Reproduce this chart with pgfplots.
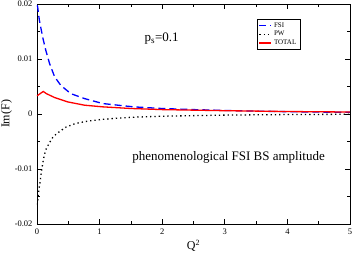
\documentclass[border=0pt]{standalone}
\usepackage{fontspec}
\setmainfont{Liberation Serif}
\usepackage{pgfplots}
\pgfplotsset{compat=1.18}
\begin{document}
\begin{tikzpicture}
\useasboundingbox (-37pt,-30pt) rectangle (317pt,224pt);
\begin{axis}[
  scale only axis,
  width=313pt, height=220pt,
  at={(0pt,0pt)}, anchor=south west,
  xmin=0, xmax=5, ymin=-0.02, ymax=0.02,
  xtick={0,1,2,3,4,5},
  minor xtick={0.5,1.5,2.5,3.5,4.5},
  ytick={-0.02,-0.01,0,0.01,0.02},
  yticklabels={-0.02,-0.01,0,0.01,0.02},
  minor ytick={-0.015,-0.005,0.005,0.015},
  scaled y ticks=false,
  tick align=inside,
  major tick length=5pt, minor tick length=3pt,
  tick style={black, line width=0.6pt},
  axis line style={line width=0.8pt},
  /pgf/number format/assume math mode=true,
  ticklabel style={font=\fontsize{8.5}{9}\selectfont},
  xticklabel style={yshift=-1pt},
  yticklabel style={xshift=-1pt},
  xlabel={Q\textsuperscript{2}},
  ylabel={Im(F)},
  label style={font=\fontsize{12}{13}\selectfont},
  xlabel style={yshift=1pt},
  ylabel style={yshift=-4pt},
  legend style={at={(0.703,0.932)}, anchor=north west,
    font=\fontsize{7}{8}\selectfont, draw=black, line width=0.4pt,
    inner sep=1.5pt, row sep=-1.5pt},
  legend cell align=left,
  legend image code/.code={\draw[#1] (0pt,0pt) -- (12pt,0pt);},
]
\addplot[blue, line width=1.3pt, dash pattern=on 7pt off 4pt] coordinates {
(0,0.0198) (0.01,0.0195) (0.037,0.0171) (0.09,0.0140) (0.14,0.0116)
(0.2,0.0092) (0.28,0.0068) (0.38,0.0052) (0.54,0.0037) (0.76,0.0028)
(1.05,0.0019) (1.54,0.0013) (2.0,0.0010) (2.5,0.0008) (3.0,0.00065)
(3.5,0.00052) (4.0,0.00042) (4.5,0.00035) (5.0,0.0003)};
\addlegendentry{FSI}
\addplot[black, line width=1.3pt, dash pattern=on 1.3pt off 3pt] coordinates {
(0,-0.0165) (0.01,-0.0160) (0.026,-0.0142) (0.048,-0.0124) (0.074,-0.0102)
(0.105,-0.0081) (0.14,-0.0065) (0.2,-0.0052) (0.25,-0.0043) (0.31,-0.0036)
(0.46,-0.0024) (0.62,-0.0017) (0.81,-0.0013) (1.05,-0.00096) (1.5,-0.0006)
(2.0,-0.0004) (2.5,-0.0003) (3.0,-0.0002) (4.0,-0.0001) (5.0,-0.00005)};
\addlegendentry{PW}
\addplot[red, line width=1.3pt] coordinates {
(0,0.0033) (0.05,0.0037) (0.1,0.0041) (0.15,0.0037) (0.28,0.0030)
(0.49,0.0022) (0.76,0.0016) (1.05,0.0013) (1.5,0.0010) (2.0,0.0008)
(2.5,0.0007) (3.0,0.0006) (4.0,0.00045) (5.0,0.00036)};
\addlegendentry{TOTAL}
\node[anchor=base, font=\fontsize{13}{14}\selectfont, inner sep=0pt] at (axis cs:1.99,0.0131) {p\textsubscript{s}=0.1};
\node[anchor=base west, font=\fontsize{13}{14}\selectfont, inner sep=0pt] at (axis cs:1.52,-0.0084) {phenomenological FSI BS amplitude};
\end{axis}
\end{tikzpicture}
\end{document}
